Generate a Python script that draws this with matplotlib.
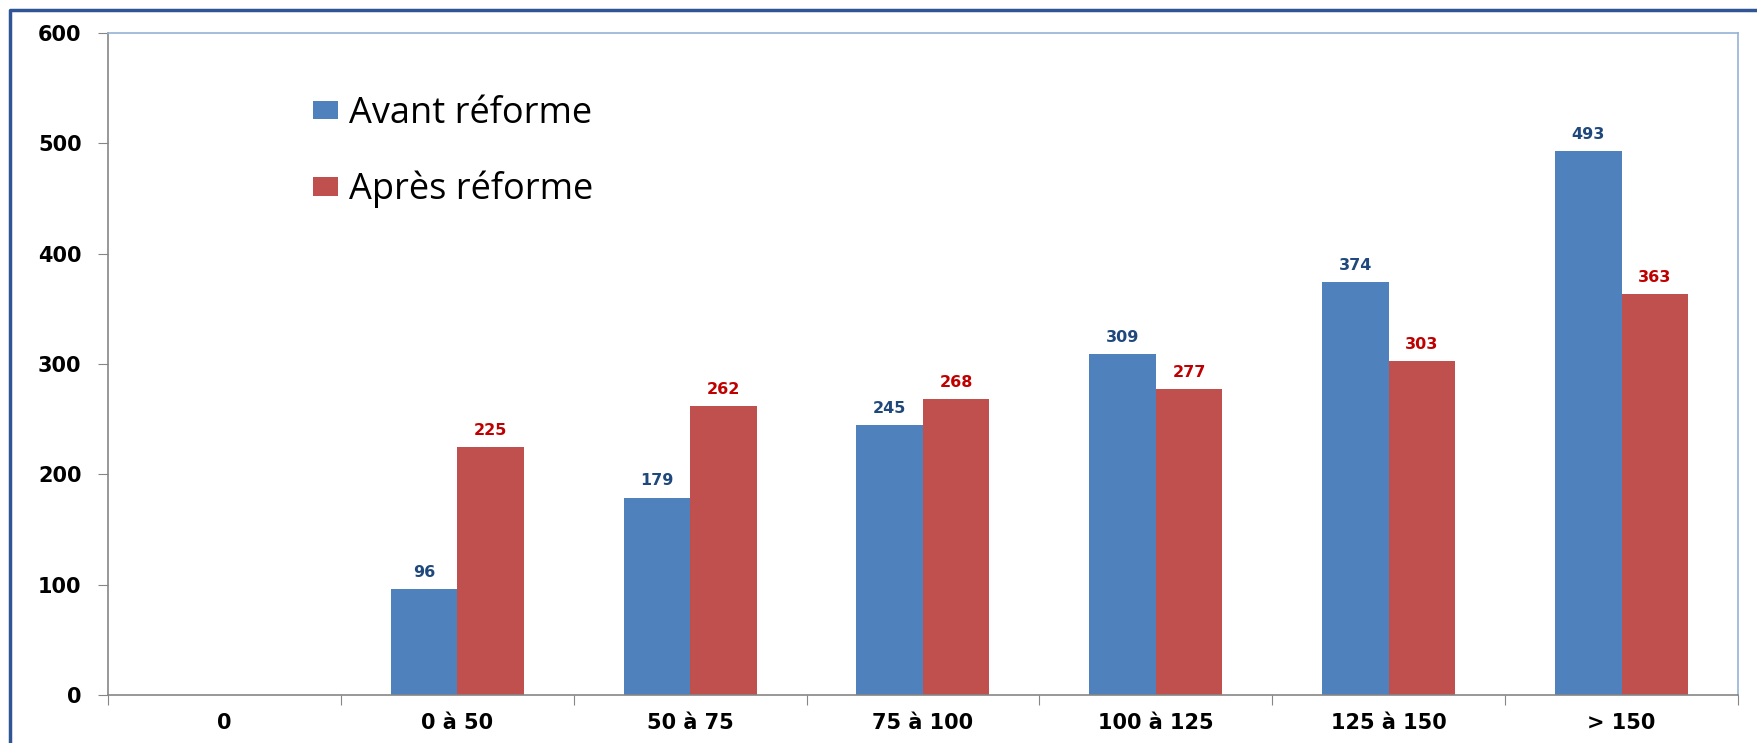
import matplotlib.pyplot as plt
from matplotlib.lines import Line2D
import numpy as np

# données du graphique
categories = ['0', '0 à 50', '50 à 75', '75 à 100', '100 à 125', '125 à 150', '> 150']
avant = [0, 96, 179, 245, 309, 374, 493]
apres = [0, 225, 262, 268, 277, 303, 363]
noms_series = ['Avant réforme', 'Après réforme']
y_ticks = [0, 100, 200, 300, 400, 500, 600]

bleu = '#4F81BD'
rouge = '#C0504D'

fig = plt.figure(figsize=(17.58, 7.43), dpi=100)
ax = fig.add_axes([0.0614, 0.0646, 0.9272, 0.891])

x = np.arange(len(categories))
w = 1 / 3.5  # largeur d'une barre (écart 150 %)
b1 = ax.bar(x - w / 2, avant, w, color=bleu, label=noms_series[0])
b2 = ax.bar(x + w / 2, apres, w, color=rouge, label=noms_series[1])

# étiquettes de valeur (pas pour la catégorie vide)
for rects, vals, col in [(b1, avant, '#1F497D'), (b2, apres, '#C00000')]:
    for r, v in zip(rects, vals):
        if v == 0:
            continue
        ax.annotate(str(v), (r.get_x() + r.get_width() / 2, v),
                    xytext=(0, 6.5), textcoords='offset points',
                    ha='center', va='bottom', fontsize=11.5,
                    fontweight='bold', color=col)

ax.set_xlim(-0.5, len(categories) - 0.5)
ax.set_ylim(0, 600)
ax.set_yticks(y_ticks)
ax.set_yticklabels([str(t) for t in y_ticks])

# graduations aux frontières, libellés au centre
ax.set_xticks(np.arange(-0.5, len(categories), 1))
ax.set_xticklabels([])
ax.set_xticks(x, minor=True)
ax.set_xticklabels(categories, minor=True)
ax.tick_params(axis='x', which='major', length=7, color='#868686')
ax.tick_params(axis='x', which='minor', length=0, pad=13)
ax.tick_params(axis='y', length=7, color='#868686', pad=12)
for lab in ax.get_xticklabels(minor=True) + ax.get_yticklabels():
    lab.set_fontsize(15)
    lab.set_fontweight('bold')

ax.spines['left'].set_color('#868686')
ax.spines['bottom'].set_color('#868686')
ax.spines['top'].set_color('#95B3D7')
ax.spines['right'].set_color('#95B3D7')
for s in ax.spines.values():
    s.set_linewidth(1.2)

leg = ax.legend(loc='upper left', bbox_to_anchor=(0.126, 0.905), frameon=False,
                prop={'family': 'Open Sans', 'size': 26},
                handlelength=0.69, handleheight=0.42, handletextpad=0.3,
                labelspacing=1.08, borderpad=0, borderaxespad=0)

# cadre extérieur (bord gauche et haut)
fig.add_artist(Line2D([0.0055, 0.0055, 1.0], [0.0, 0.987, 0.987],
                      transform=fig.transFigure, color='#2F5597', lw=2.5))

fig.savefig('out.png', dpi=100)
